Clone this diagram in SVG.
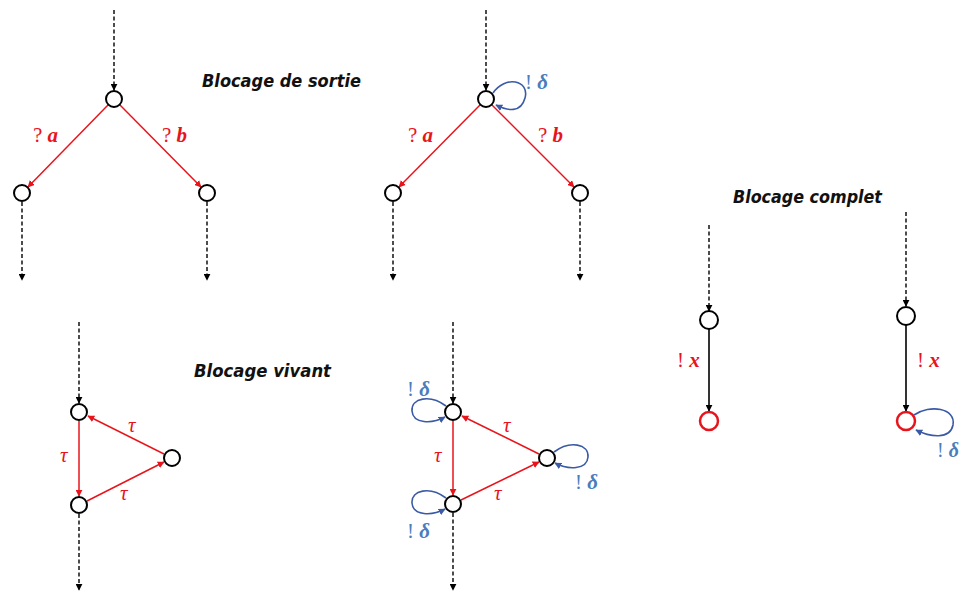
<svg xmlns="http://www.w3.org/2000/svg" width="962" height="594" viewBox="0 0 962 594">
<defs>
<style>
.st{fill:#fff;stroke:#000;stroke-width:2}
.fin{fill:#fff;stroke:#e8141c;stroke-width:2.5}
.dash{stroke:#000;stroke-width:1.4;stroke-dasharray:4 2.5;fill:none}
.solid{stroke:#000;stroke-width:1.6;fill:none}
.red{stroke:#e8141c;stroke-width:1.5;fill:none}
.loop{stroke:#3b5aa6;stroke-width:1.6;fill:none}
.title{font-family:"DejaVu Sans",Verdana,sans-serif;font-weight:bold;font-style:italic;font-size:18px;fill:#111}
.lr{font-family:"Liberation Serif","Times New Roman",serif;font-size:21px;fill:#e8141c}
.lb{font-family:"Liberation Serif","Times New Roman",serif;font-size:21px;fill:#4a7dbb}
.v{font-weight:bold;font-style:italic}
.t{font-style:italic}
</style>
<marker id="ak" viewBox="0 0 10 10" refX="9" refY="5" markerWidth="7" markerHeight="7" markerUnits="userSpaceOnUse" orient="auto"><path d="M0,0 L10,5 L0,10 z" fill="#000"/></marker>
<marker id="ar" viewBox="0 0 10 10" refX="9" refY="5" markerWidth="7" markerHeight="7" markerUnits="userSpaceOnUse" orient="auto"><path d="M0,0 L10,5 L0,10 z" fill="#e8141c"/></marker>
<marker id="ab" viewBox="0 0 10 10" refX="9" refY="5" markerWidth="7" markerHeight="7" markerUnits="userSpaceOnUse" orient="auto"><path d="M0,0 L10,5 L0,10 z" fill="#3b5aa6"/></marker>
</defs>

<g id="titles">
<text class="title" x="202" y="87" textLength="159" lengthAdjust="spacingAndGlyphs">Blocage de sortie</text>
<text class="title" x="733" y="203" textLength="149" lengthAdjust="spacingAndGlyphs">Blocage complet</text>
<text class="title" x="194" y="377" textLength="137" lengthAdjust="spacingAndGlyphs">Blocage vivant</text>
</g>

<g id="connectors">
<!-- panel 1 -->
<line class="dash" x1="114" y1="10" x2="114" y2="90" marker-end="url(#ak)"/>
<line class="red" x1="108" y1="105" x2="28" y2="187" marker-end="url(#ar)"/>
<line class="red" x1="120" y1="105" x2="201" y2="187" marker-end="url(#ar)"/>
<line class="dash" x1="22" y1="202" x2="22" y2="280" marker-end="url(#ak)"/>
<line class="dash" x1="207" y1="202" x2="207" y2="280" marker-end="url(#ak)"/>
<!-- panel 2 -->
<line class="dash" x1="486" y1="10" x2="486" y2="90" marker-end="url(#ak)"/>
<line class="red" x1="480" y1="105" x2="399" y2="187" marker-end="url(#ar)"/>
<line class="red" x1="492" y1="105" x2="574" y2="187" marker-end="url(#ar)"/>
<line class="dash" x1="393" y1="202" x2="393" y2="280" marker-end="url(#ak)"/>
<line class="dash" x1="580" y1="202" x2="580" y2="280" marker-end="url(#ak)"/>
<path class="loop" d="M493,93 C505,75 530,80 525,98 C521,113 508,111 496,105" marker-end="url(#ab)"/>
<!-- panel 3 -->
<line class="dash" x1="709" y1="225" x2="709" y2="311" marker-end="url(#ak)"/>
<line class="solid" x1="709" y1="329" x2="709" y2="411" marker-end="url(#ak)"/>
<line class="dash" x1="906" y1="212" x2="906" y2="306" marker-end="url(#ak)"/>
<line class="solid" x1="906" y1="325" x2="906" y2="411" marker-end="url(#ak)"/>
<path class="loop" d="M914,415 C930,404 956,408 953,425 C950,440 930,437 916,430" marker-end="url(#ab)"/>
<!-- panel 4 -->
<line class="dash" x1="79" y1="322" x2="79" y2="403" marker-end="url(#ak)"/>
<line class="red" x1="79" y1="421" x2="79" y2="496" marker-end="url(#ar)"/>
<line class="red" x1="87" y1="501" x2="164" y2="462" marker-end="url(#ar)"/>
<line class="red" x1="164" y1="454" x2="88" y2="416" marker-end="url(#ar)"/>
<line class="dash" x1="79" y1="514" x2="79" y2="590" marker-end="url(#ak)"/>
<!-- panel 5 -->
<line class="dash" x1="453" y1="322" x2="453" y2="403" marker-end="url(#ak)"/>
<line class="red" x1="453" y1="421" x2="453" y2="495" marker-end="url(#ar)"/>
<line class="red" x1="461" y1="500" x2="539" y2="462" marker-end="url(#ar)"/>
<line class="red" x1="539" y1="454" x2="462" y2="416" marker-end="url(#ar)"/>
<line class="dash" x1="453" y1="513" x2="453" y2="590" marker-end="url(#ak)"/>
<path class="loop" d="M446,406 C430,394 411,398 412,411 C413,424 432,424 445,417" marker-end="url(#ab)"/>
<path class="loop" d="M446,498 C430,486 411,490 412,503 C413,516 432,516 445,509" marker-end="url(#ab)"/>
<path class="loop" d="M554,452 C570,440 589,444 588,457 C587,470 568,470 555,463" marker-end="url(#ab)"/>
</g>

<g id="labels">
<text class="lr" x="33" y="142">? <tspan class="v">a</tspan></text>
<text class="lr" x="162" y="142">? <tspan class="v">b</tspan></text>
<text class="lr" x="408" y="142">? <tspan class="v">a</tspan></text>
<text class="lr" x="538" y="142">? <tspan class="v">b</tspan></text>
<text class="lb" x="525" y="89">! <tspan class="v">δ</tspan></text>
<text class="lr" x="677" y="367">! <tspan class="v">x</tspan></text>
<text class="lr" x="917" y="367">! <tspan class="v">x</tspan></text>
<text class="lb" x="937" y="457" style="font-size:20px">! <tspan class="v">δ</tspan></text>
<text class="lr t" x="60" y="462">τ</text>
<text class="lr t" x="128" y="432">τ</text>
<text class="lr t" x="120" y="500">τ</text>
<text class="lr t" x="434" y="462">τ</text>
<text class="lr t" x="503" y="432">τ</text>
<text class="lr t" x="494" y="500">τ</text>
<text class="lb" x="407" y="396">! <tspan class="v">δ</tspan></text>
<text class="lb" x="407" y="538">! <tspan class="v">δ</tspan></text>
<text class="lb" x="575" y="489">! <tspan class="v">δ</tspan></text>
</g>

<g id="n1"><circle class="st" cx="114" cy="99" r="8"/></g>
<g id="n2"><circle class="st" cx="22" cy="193" r="8"/></g>
<g id="n3"><circle class="st" cx="207" cy="193" r="8"/></g>
<g id="n4"><circle class="st" cx="486" cy="99" r="8"/></g>
<g id="n5"><circle class="st" cx="393" cy="193" r="8"/></g>
<g id="n6"><circle class="st" cx="580" cy="193" r="8"/></g>
<g id="n7"><circle class="st" cx="709" cy="320" r="9"/></g>
<g id="n8"><circle class="fin" cx="709" cy="421" r="9"/></g>
<g id="n9"><circle class="st" cx="906" cy="316" r="9"/></g>
<g id="n10"><circle class="fin" cx="906" cy="421" r="9"/></g>
<g id="n11"><circle class="st" cx="79" cy="412" r="8"/></g>
<g id="n12"><circle class="st" cx="79" cy="505" r="8"/></g>
<g id="n13"><circle class="st" cx="172" cy="458" r="8"/></g>
<g id="n14"><circle class="st" cx="453" cy="412" r="8"/></g>
<g id="n15"><circle class="st" cx="453" cy="504" r="8"/></g>
<g id="n16"><circle class="st" cx="547" cy="458" r="8"/></g>
</svg>
